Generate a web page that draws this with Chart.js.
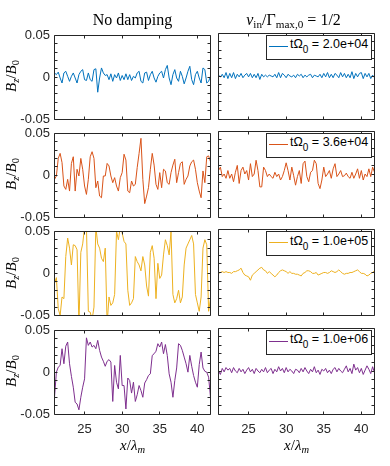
<!DOCTYPE html>
<html>
<head>
<meta charset="utf-8">
<script src="https://cdn.jsdelivr.net/npm/chart.js@4.4.1/dist/chart.umd.min.js"></script>
<style>
html,body{margin:0;padding:0;background:#fff;}
#fig{position:relative;width:390px;height:466px;overflow:hidden;background:#fff;}
#fig canvas{position:absolute;}
.tx{position:absolute;font-family:"Liberation Serif","Times New Roman",serif;color:#000;white-space:nowrap;line-height:1;}
.tx sub{font-size:0.7em;vertical-align:-0.3em;line-height:0;}
.leg{position:absolute;background:#fff;border:1px solid #262626;box-sizing:border-box;font-family:"Liberation Sans",Arial,sans-serif;font-size:12.5px;color:#000;white-space:nowrap;z-index:5;}
.leg .ln{position:absolute;left:2px;top:10px;width:19px;height:0;border-top:1px solid;}
.leg .lt{position:absolute;left:23px;top:2.5px;line-height:1;}
.leg sub{font-size:0.8em;vertical-align:-0.5em;line-height:0;}
</style>
</head>
<body>
<div id="fig"></div>
<script>
// ---------- data ----------
const X = [21,21.25,21.5,21.75,22,22.25,22.5,22.75,23,23.25,23.5,23.75,24,24.25,24.5,24.75,25,25.25,25.5,25.75,26,26.25,26.5,26.75,27,27.25,27.5,27.75,28,28.25,28.5,28.75,29,29.25,29.5,29.75,30,30.25,30.5,30.75,31,31.25,31.5,31.75,32,32.25,32.5,32.75,33,33.25,33.5,33.75,34,34.25,34.5,34.75,35,35.25,35.5,35.75,36,36.25,36.5,36.75,37,37.25,37.5,37.75,38,38.25,38.5,38.75,39,39.25,39.5,39.75,40,40.25,40.5,40.75,41,41.25,41.5,41.75];
const X_TICKS = [25, 30, 35, 40];
const Y_LABELLED = [-0.05, 0, 0.05];

// No damping column
const noDamp1 = [0.005,0.003,0.006,-0.001,-0.007,0.005,0.007,0.001,-0.005,0.001,
 0.005,-0.001,-0.007,0.003,0.007,0.009,-0.003,-0.004,0.005,-0.003,
 -0.005,0.009,0.010,-0.018,-0.001,0.011,0.005,0.002,0.003,-0.003,
 0.004,-0.005,0.003,-0.001,0.005,-0.004,0.002,-0.003,0.004,-0.003,
 0.003,-0.004,0.001,-0.001,0.005,0.007,-0.005,-0.007,0.005,0.006,
 -0.004,0.003,0.007,-0.001,-0.006,0.001,0.005,0.007,-0.001,0.009,
 0.014,-0.001,-0.009,0.003,0.009,-0.001,-0.005,0.007,0.001,-0.008,
 -0.001,0.007,0.013,-0.003,-0.009,0.003,0.007,-0.001,-0.007,0.011,
 0.009,-0.007,-0.005,0.001];
const noDamp2 = [-0.005,-0.001,0.020,0.026,0.015,-0.013,-0.017,-0.005,-0.019,0.014,
 0.022,-0.019,0.007,-0.001,0.020,0.007,-0.013,-0.023,-0.005,0.022,
 0.028,0.020,-0.015,-0.007,-0.025,-0.027,-0.001,-0.001,0.014,0.011,
 -0.001,-0.009,-0.003,-0.013,-0.019,-0.003,0.003,0.025,0.018,-0.019,
 -0.021,-0.007,-0.013,-0.011,0.009,0.026,0.044,-0.005,-0.034,-0.025,
 -0.015,0.007,0.026,0.012,-0.011,-0.017,0.003,-0.015,0.007,0.005,
 -0.009,-0.011,0.003,0.012,0.019,-0.009,0.003,0.014,0.016,-0.011,
 -0.005,-0.001,0.011,0.016,0.018,0.007,-0.009,-0.019,-0.027,0.005,
 -0.009,0.022,0.023,0.016];
const noDamp3 = [-0.012,-0.005,-0.042,-0.050,-0.028,-0.030,0.020,0.042,0.030,0.010,
 0.034,0.033,0.028,-0.060,0.025,0.035,0.055,0.055,-0.045,-0.046,
 -0.055,-0.040,0.055,0.035,0.030,0.018,0.014,0.030,-0.060,-0.028,
 -0.038,-0.035,-0.025,0.050,0.040,0.055,0.048,0.038,0.035,-0.020,
 -0.038,-0.035,-0.030,0.020,0.014,0.010,0.003,0.020,0.010,-0.015,
 -0.027,0.025,0.033,0.018,-0.030,0.012,-0.006,-0.002,0.022,0.040,
 0.033,0.022,0.050,-0.025,-0.035,-0.030,-0.020,-0.035,-0.028,0.010,
 0.030,0.035,0.040,0.045,0.035,-0.025,-0.035,-0.045,-0.028,0.030,
 0.040,0.034,-0.045,-0.030];
const noDamp4 = [-0.030,0.000,0.006,0.008,0.028,0.010,0.031,0.036,0.010,-0.005,
 -0.018,-0.036,-0.038,-0.045,-0.030,-0.018,-0.008,0.041,0.032,0.036,
 0.030,0.032,0.028,0.038,0.026,0.018,0.013,0.007,0.013,0.015,
 0.012,-0.035,0.008,-0.012,-0.020,0.020,-0.016,-0.016,-0.044,-0.007,
 -0.010,-0.025,-0.012,-0.035,-0.027,-0.016,-0.022,-0.030,-0.013,-0.009,
 -0.004,-0.002,0.020,0.022,0.025,0.034,0.030,0.036,0.022,0.033,
 0.020,-0.002,-0.012,-0.030,-0.010,0.005,0.034,0.032,0.026,0.018,
 0.010,0.000,0.020,0.007,-0.004,-0.012,-0.018,0.009,0.024,0.005,
 0.001,0.000,-0.006,-0.030];

// nu_in / Gamma_max,0 = 1/2 column
const damp1 = [0.001,-0.001,0.002,-0.002,0.004,-0.003,0.003,-0.002,0.004,-0.003,
 0.002,-0.001,0.003,-0.002,0.001,0.003,-0.001,0.003,-0.002,0.002,
 -0.002,0.003,-0.004,0.002,-0.001,0.001,-0.001,0.001,0.000,-0.001,
 0.002,-0.002,0.004,-0.002,0.003,0.001,-0.002,0.002,0.000,-0.001,
 0.001,-0.002,0.002,0.000,0.002,-0.002,0.001,-0.001,0.001,0.002,
 -0.002,0.001,0.000,-0.001,0.002,-0.002,0.003,-0.001,0.004,-0.002,
 0.002,-0.002,0.003,0.001,-0.002,0.004,-0.001,0.003,-0.002,0.002,
 -0.002,0.005,-0.003,0.003,-0.001,0.003,0.004,-0.003,0.003,-0.001,
 0.003,-0.003,0.001,-0.002];
const damp2 = [0.004,0.008,-0.003,0.000,-0.005,0.004,-0.005,0.000,-0.009,0.002,
 0.010,-0.011,0.004,0.008,0.000,0.004,-0.007,0.012,-0.003,0.000,
 0.016,0.004,-0.015,-0.015,0.008,0.004,-0.003,0.000,-0.003,-0.005,
 0.002,-0.003,0.000,-0.007,-0.003,0.004,0.013,0.004,-0.007,0.008,
 -0.002,-0.013,-0.003,0.004,-0.011,0.012,0.015,-0.003,-0.009,0.002,
 0.004,0.016,0.012,-0.011,-0.017,-0.007,0.008,-0.003,0.000,0.004,
 -0.005,0.006,0.012,-0.003,0.000,0.004,-0.003,-0.002,0.001,-0.003,
 -0.005,0.002,-0.005,0.000,0.006,-0.005,0.004,-0.007,0.000,-0.003,
 0.006,-0.003,0.008,0.002];
const damp3 = [-0.001,0.000,0.001,0.000,0.001,0.000,0.000,-0.001,0.001,0.001,
 0.002,0.003,0.005,0.000,-0.003,-0.004,-0.005,-0.009,-0.003,-0.001,
 0.001,0.003,0.005,0.006,0.003,0.002,-0.001,0.001,-0.001,-0.003,
 -0.005,-0.003,0.000,0.002,0.003,0.002,0.001,-0.001,0.001,-0.001,
 -0.001,-0.002,-0.002,-0.003,-0.004,-0.001,0.000,0.002,0.002,0.001,
 -0.001,-0.001,0.000,-0.003,-0.002,-0.001,0.000,0.000,-0.001,0.000,
 0.002,0.001,0.000,0.001,0.003,0.001,-0.001,-0.002,-0.001,-0.001,
 0.000,0.000,0.001,0.002,0.003,0.001,-0.001,-0.001,-0.002,-0.004,
 -0.003,-0.001,0.000,0.002];
const damp4 = [0.000,-0.004,0.003,-0.001,0.004,0.001,0.003,-0.002,0.004,0.000,
 -0.002,0.003,-0.001,0.002,-0.003,0.001,0.004,-0.001,0.002,-0.003,
 0.003,0.000,-0.002,0.002,-0.001,0.004,-0.002,0.001,0.003,-0.003,
 0.002,-0.001,0.005,0.000,0.003,-0.002,0.004,-0.001,0.002,0.000,
 -0.003,0.002,0.001,-0.002,0.003,-0.001,0.004,0.000,-0.003,0.002,
 -0.001,0.005,-0.002,0.001,-0.004,0.002,0.000,0.003,-0.002,0.001,
 -0.003,0.002,0.004,-0.001,0.003,0.000,-0.002,0.002,0.006,-0.001,
 0.003,-0.003,0.008,0.001,0.004,-0.002,0.003,-0.004,0.001,0.006,
 0.002,-0.003,0.005,-0.002];

const LEGEND_TEXT = ['2.0e+04', '3.6e+04', '1.0e+05', '1.0e+06'];
const COLORS = ['#0072BD', '#D95319', '#EDB120', '#7E2F8E'];

// ---------- layout ----------
const COLX = [54.5, 218.5], ROWY = [33, 131, 229.5, 328], PW = 156, PH = 86;
const YW = 50, XH = 28, PT = 10, TL = 3;
const fig = document.getElementById('fig');

const framePlugin = {
  id: 'frame',
  afterDatasetsDraw(chart) {
    const {ctx, chartArea: a, scales: {x, y}} = chart;
    const L = Math.floor(a.left) + 0.5, R = Math.floor(a.right) + 0.5;
    const T = Math.floor(a.top) + 0.5, B = Math.floor(a.bottom) + 0.5;
    ctx.save();
    ctx.strokeStyle = '#262626';
    ctx.lineWidth = 1;
    ctx.beginPath();
    y.ticks.forEach(t => {
      const py = Math.floor(y.getPixelForValue(t.value)) + 0.5;
      ctx.moveTo(L, py); ctx.lineTo(L + TL, py);
      ctx.moveTo(R, py); ctx.lineTo(R - TL, py);
    });
    x.ticks.forEach(t => {
      const px = Math.floor(x.getPixelForValue(t.value)) + 0.5;
      ctx.moveTo(px, T); ctx.lineTo(px, T + TL);
      ctx.moveTo(px, B); ctx.lineTo(px, B - TL);
    });
    ctx.rect(L, T, R - L, B - T);
    ctx.stroke();
    ctx.restore();
  }
};

function yLabel(v) {
  for (const l of Y_LABELLED) if (Math.abs(v - l) < 1e-9) return l === 0 ? '0' : String(l);
  return '';
}

function makePanel(col, row, series, color) {
  const x0 = COLX[col], y0 = ROWY[row];
  const cl = Math.floor(x0) - YW, ct = Math.floor(y0) - PT;
  const padL = x0 - Math.floor(x0);
  const padT = y0 - ct;
  const W = Math.ceil(YW + padL + PW + 6);
  const H = Math.ceil(padT + PH + XH + 2);
  const padR = W - (YW + padL + PW);
  const padB = H - (padT + PH + XH);
  const cv = document.createElement('canvas');
  cv.width = W; cv.height = H;
  cv.style.left = cl + 'px'; cv.style.top = ct + 'px';
  cv.style.width = W + 'px'; cv.style.height = H + 'px';
  fig.appendChild(cv);
  const tickFont = {family: '"Liberation Sans", Arial, sans-serif', size: 13};
  new Chart(cv, {
    type: 'line',
    data: {datasets: [{
      data: X.map((x, i) => ({x: x, y: series[i]})),
      borderColor: color, borderWidth: 1, pointRadius: 0, tension: 0, fill: false
    }]},
    options: {
      responsive: false, animation: false, devicePixelRatio: 1,
      layout: {padding: {left: padL, top: padT, right: padR, bottom: padB}},
      plugins: {legend: {display: false}, tooltip: {enabled: false}, title: {display: false}},
      scales: {
        x: {
          type: 'linear', min: X[0], max: X[X.length - 1],
          afterBuildTicks(s) { s.ticks = X_TICKS.map(v => ({value: v})); },
          afterFit(s) { s.height = XH; },
          grid: {display: false, drawTicks: false}, border: {display: false},
          ticks: {display: row === 3, autoSkip: false, maxRotation: 0, padding: 7.5,
                  font: tickFont, color: '#262626', callback: v => String(v)}
        },
        y: {
          min: -0.05, max: 0.05,
          afterFit(s) { s.width = YW; },
          grid: {display: false, drawTicks: false}, border: {display: false},
          ticks: {display: col === 0, stepSize: 0.01, autoSkip: false, padding: 4.5,
                  font: tickFont, color: '#262626', callback: yLabel}
        }
      }
    },
    plugins: [framePlugin]
  });
}

const NO_DAMP = [noDamp1, noDamp2, noDamp3, noDamp4];
const DAMP = [damp1, damp2, damp3, damp4];
for (let r = 0; r < 4; r++) {
  makePanel(0, r, NO_DAMP[r], COLORS[r]);
  makePanel(1, r, DAMP[r], COLORS[r]);
}

// ---------- text ----------
function addText(html, style) {
  const d = document.createElement('div');
  d.className = 'tx';
  d.innerHTML = html;
  Object.assign(d.style, style);
  fig.appendChild(d);
  return d;
}
addText('No damping', {left: (COLX[0] + PW / 2) + 'px', top: '11.5px', fontSize: '16px', transform: 'translateX(-50%)'});
addText('<i>ν</i><sub>in</sub>/Γ<sub>max,0</sub>&nbsp;=&nbsp;1/2',
        {left: (COLX[1] + PW / 2 - 3) + 'px', top: '11.5px', fontSize: '16px', transform: 'translateX(-50%)'});
for (let r = 0; r < 4; r++) {
  addText('<i>B</i><sub><i>z</i></sub>/<i>B</i><sub>0</sub>',
          {left: '11px', top: (ROWY[r] + PH / 2) + 'px', fontSize: '15px',
           transform: 'translate(-50%,-50%) rotate(-90deg)'});
}
for (let c = 0; c < 2; c++) {
  addText('<i>x</i>/<i>λ</i><sub><i>m</i></sub>',
          {left: (COLX[c] + PW / 2) + 'px', top: '438px', fontSize: '15px', transform: 'translateX(-50%)'});
}
// legends
for (let r = 0; r < 4; r++) {
  const d = document.createElement('div');
  d.className = 'leg';
  d.style.left = '266px';
  d.style.top = (ROWY[r] + 1.5) + 'px';
  d.style.width = '106px';
  d.style.height = '25px';
  d.innerHTML = '<span class="ln" style="border-color:' + COLORS[r] + '"></span>' +
                '<span class="lt">tΩ<sub>0</sub> = ' + LEGEND_TEXT[r] + '</span>';
  fig.appendChild(d);
}
</script>
</body>
</html>
